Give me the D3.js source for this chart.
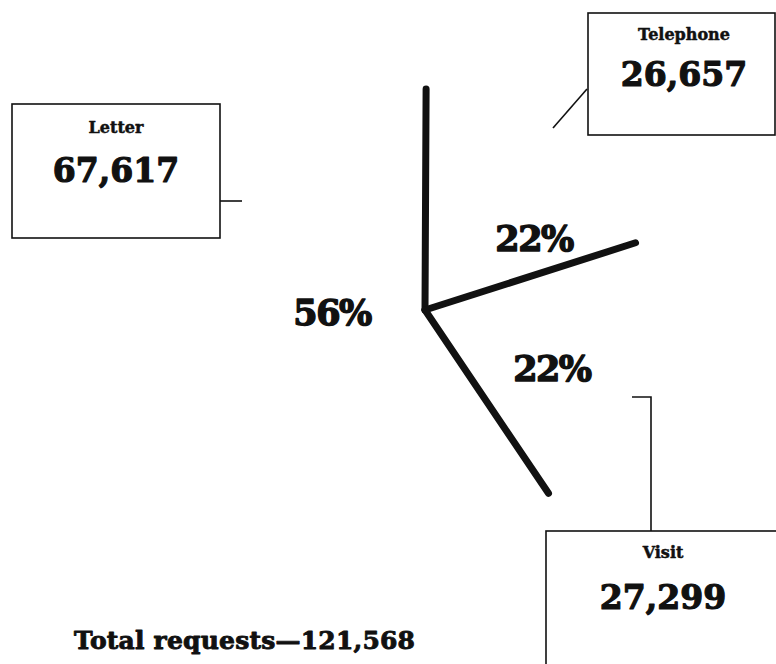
<!DOCTYPE html>
<html>
<head>
<meta charset="utf-8">
<script src="https://cdn.jsdelivr.net/npm/d3@7"></script>
<style>
  body { margin: 0; background: #fff; }
  svg { display: block; }
  text { font-family: "DejaVu Serif", serif; font-weight: bold; fill: #111; stroke: #111; stroke-linejoin: round; }
</style>
</head>
<body>
<svg id="chart" width="776" height="664"></svg>
<script>
// request channels, in drawing order (clockwise from 12 o'clock)
var categories = ["Telephone", "Visit", "Letter"];
var requests = [26657, 27299, 67617];
// total as printed on the original
var totalRequests = 121568;
var totalLabel = "Total requests\u2014";

var svg = d3.select("#chart");
var cx = 425, cy = 310, radius = 221;
var fmtNum = d3.format(",");
var fmtPct = d3.format(".0%");

var data = categories.map(function (c, i) { return { name: c, value: requests[i] }; });

// the hand-drawn original is not quite to scale, so the pie is squeezed a little
var pie = d3.pie().sort(null).value(function (d) { return d.value; })
  .startAngle(0.005).endAngle(2 * Math.PI * 0.913);
var arcs = pie(data);

var g = svg.append("g").attr("transform", "translate(" + cx + "," + cy + ")");

// only the slice borders are drawn, as heavy strokes
g.selectAll("line.spoke")
  .data(arcs)
  .enter().append("line")
  .attr("class", "spoke")
  .attr("x1", 0).attr("y1", 0)
  .attr("x2", function (d) { return radius * Math.sin(d.startAngle); })
  .attr("y2", function (d) { return -radius * Math.cos(d.startAngle); })
  .attr("stroke", "#111")
  .attr("stroke-width", 7)
  .attr("stroke-linecap", "round");

// percentage labels, offsets from centre (angle in degrees, distance in px)
var pctPos = { Telephone: [57, 130], Visit: [115, 140], Letter: [268, 93] };
g.selectAll("text.pct")
  .data(arcs)
  .enter().append("text")
  .attr("class", "pct")
  .attr("text-anchor", "middle")
  .attr("font-size", 35)
  .attr("stroke-width", 1.4)
  .attr("x", function (d) { var p = pctPos[d.data.name]; return p[1] * Math.sin(p[0] * Math.PI / 180); })
  .attr("y", function (d) { var p = pctPos[d.data.name]; return -p[1] * Math.cos(p[0] * Math.PI / 180) + 12; })
  .attr("letter-spacing", -1.5)
  .text(function (d) { return fmtPct(d.value / totalRequests); });

// callout boxes
var boxes = {
  Letter:    { x: 12,  y: 104, w: 208, h: 134, tx: 116, ty: 133, vy: 182,
               leader: [[220, 201], [242, 201]] },
  Telephone: { x: 588, y: 13,  w: 187, h: 122, tx: 684, ty: 40, vy: 86,
               leader: [[587, 89], [553, 128]] },
  Visit:     { x: 546, y: 531, w: 232, h: 140, tx: 663, ty: 558, vy: 609,
               leader: [[632, 397], [651, 397], [651, 531]] }
};

var line = d3.line();
data.forEach(function (d) {
  var b = boxes[d.name];
  svg.append("rect")
    .attr("x", b.x).attr("y", b.y).attr("width", b.w).attr("height", b.h)
    .attr("fill", "none").attr("stroke", "#111").attr("stroke-width", 1.6);
  svg.append("path")
    .attr("d", line(b.leader))
    .attr("fill", "none").attr("stroke", "#111").attr("stroke-width", 1.6);
  svg.append("text")
    .attr("x", b.tx).attr("y", b.ty)
    .attr("text-anchor", "middle").attr("font-size", 16)
    .attr("stroke-width", 0.5)
    .text(d.name);
  svg.append("text")
    .attr("x", b.tx).attr("y", b.vy)
    .attr("text-anchor", "middle").attr("font-size", 33)
    .attr("stroke-width", 1.2)
    .text(fmtNum(d.value));
});

svg.append("text")
  .attr("x", 74).attr("y", 649)
  .attr("font-size", 25)
  .attr("stroke-width", 0.9)
  .attr("textLength", 341)
  .text(totalLabel + fmtNum(totalRequests));
</script>
</body>
</html>
